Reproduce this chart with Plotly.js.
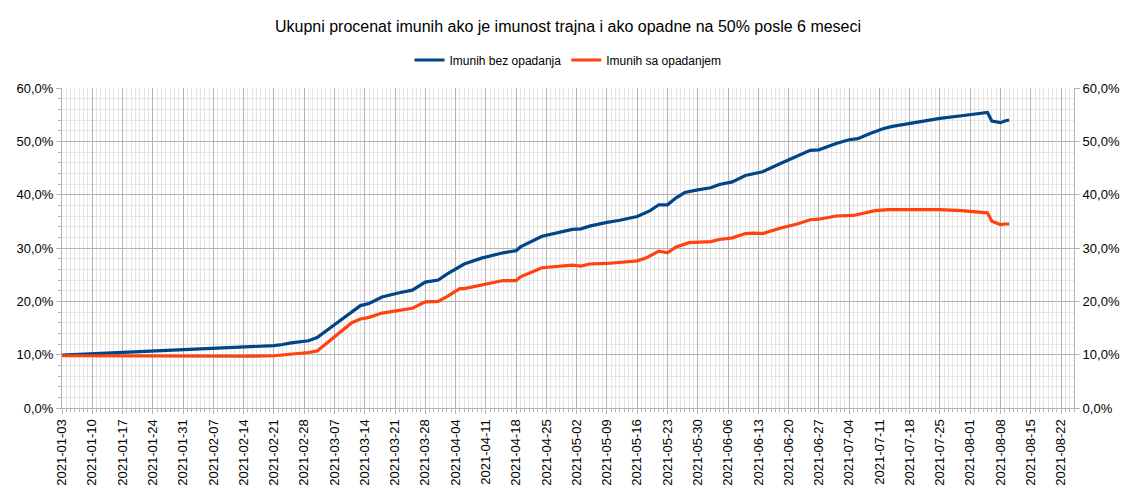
<!DOCTYPE html>
<html>
<head>
<meta charset="utf-8">
<script src="https://cdn.plot.ly/plotly-3.0.1.min.js"></script>
<style>html,body{margin:0;padding:0;background:#fff;}#chart{width:1136px;height:489px;}</style>
</head>
<body>
<div id="chart"></div>
<script>
const chartTitle = "Ukupni procenat imunih ako je imunost trajna i ako opadne na 50% posle 6 meseci";
const seriesNames = ["Imunih bez opadanja", "Imunih sa opadanjem"];

const datesBez = ["2021-01-03","2021-01-17","2021-01-31","2021-02-14","2021-02-21","2021-02-23","2021-02-25","2021-03-01","2021-03-02","2021-03-03","2021-03-07","2021-03-11","2021-03-13","2021-03-15","2021-03-18","2021-03-22","2021-03-25","2021-03-28","2021-03-31","2021-04-02","2021-04-05","2021-04-06","2021-04-10","2021-04-12","2021-04-15","2021-04-18","2021-04-19","2021-04-24","2021-04-27","2021-05-01","2021-05-03","2021-05-05","2021-05-09","2021-05-12","2021-05-16","2021-05-19","2021-05-21","2021-05-23","2021-05-25","2021-05-27","2021-05-30","2021-06-02","2021-06-04","2021-06-07","2021-06-10","2021-06-12","2021-06-14","2021-06-18","2021-06-22","2021-06-25","2021-06-27","2021-07-01","2021-07-04","2021-07-06","2021-07-09","2021-07-12","2021-07-14","2021-07-19","2021-07-25","2021-07-30","2021-08-04","2021-08-05","2021-08-06","2021-08-08","2021-08-09","2021-08-10"];
const valuesBez = [9.9,10.4,11.0,11.4,11.7,11.9,12.2,12.6,12.9,13.2,15.6,18.1,19.2,19.6,20.8,21.6,22.1,23.6,24.0,25.1,26.6,27.0,28.1,28.5,29.1,29.5,30.2,32.2,32.7,33.5,33.6,34.1,34.8,35.2,35.9,37.0,38.1,38.1,39.4,40.4,40.9,41.3,41.9,42.4,43.6,44.0,44.3,45.8,47.2,48.3,48.4,49.6,50.3,50.5,51.5,52.4,52.8,53.5,54.3,54.8,55.2,55.4,53.8,53.5,53.8,54.0];

const datesSa = ["2021-01-03","2021-01-31","2021-02-14","2021-02-21","2021-02-24","2021-02-25","2021-03-01","2021-03-03","2021-03-07","2021-03-11","2021-03-13","2021-03-15","2021-03-18","2021-03-21","2021-03-25","2021-03-28","2021-03-31","2021-04-02","2021-04-05","2021-04-06","2021-04-09","2021-04-12","2021-04-15","2021-04-18","2021-04-19","2021-04-24","2021-04-27","2021-05-01","2021-05-03","2021-05-05","2021-05-09","2021-05-12","2021-05-16","2021-05-18","2021-05-21","2021-05-23","2021-05-25","2021-05-28","2021-06-02","2021-06-04","2021-06-07","2021-06-10","2021-06-12","2021-06-14","2021-06-18","2021-06-22","2021-06-25","2021-06-27","2021-07-01","2021-07-05","2021-07-07","2021-07-10","2021-07-13","2021-07-25","2021-07-30","2021-08-05","2021-08-06","2021-08-08","2021-08-09","2021-08-10"];
const valuesSa = [9.8,9.7,9.7,9.8,10.0,10.2,10.4,10.7,13.4,16.0,16.7,17.0,17.8,18.2,18.7,19.9,20.0,20.9,22.4,22.4,22.9,23.3,23.9,23.9,24.6,26.3,26.5,26.8,26.6,27.0,27.1,27.3,27.6,28.1,29.4,29.1,30.2,31.0,31.2,31.6,31.9,32.7,32.8,32.7,33.7,34.5,35.3,35.4,36.0,36.1,36.5,37.0,37.2,37.2,37.0,36.6,35.0,34.4,34.5,34.5];

const seriesColors = ["#004586", "#ff420e"];

const font = "Liberation Sans, Arial, sans-serif";
const traces = [
  {x: datesBez, y: valuesBez, name: seriesNames[0], type: "scatter", mode: "lines",
   line: {color: seriesColors[0], width: 3.2}},
  {x: datesSa, y: valuesSa, name: seriesNames[1], type: "scatter", mode: "lines",
   line: {color: seriesColors[1], width: 3.2}},
  // invisible copy so the secondary (right) axis is drawn
  {x: datesBez, y: valuesBez, yaxis: "y2", type: "scatter", mode: "lines",
   line: {color: "rgba(0,0,0,0)", width: 0}, showlegend: false, hoverinfo: "skip"}
];

const axisFont = {family: font, size: 13, color: "#000"};
const layout = {
  width: 1136, height: 489,
  margin: {l: 62, r: 62, t: 88, b: 81},
  paper_bgcolor: "#fff", plot_bgcolor: "#fff",
  separators: ", ",
  font: {family: font, color: "#000", size: 13},
  title: {text: chartTitle, font: {family: font, size: 16, color: "#000"},
          x: 0.5, xanchor: "center", y: 1 - 26/489, yanchor: "middle", yref: "container"},
  showlegend: true,
  legend: {orientation: "h", x: 0.5, xanchor: "center", y: 1.0875, yanchor: "middle",
           font: {family: font, size: 12, color: "#000"}, itemwidth: 30, tracegroupgap: 0},
  xaxis: {
    type: "date", range: ["2021-01-03", "2021-08-25"],
    tick0: "2021-01-03", dtick: 7*86400000, tickformat: "%Y-%m-%d", tickangle: -90,
    showgrid: true, gridcolor: "#b3b3b3", gridwidth: 1,
    ticks: "outside", ticklen: 5, tickcolor: "#b3b3b3",
    showline: true, linecolor: "#b3b3b3", zeroline: false,
    tickfont: axisFont,
    minor: {dtick: 86400000, showgrid: true, gridcolor: "#e6e6e6", ticks: "outside", ticklen: 3, tickcolor: "#b3b3b3"}
  },
  yaxis: {
    range: [0, 60], dtick: 10, tickformat: ".1f", ticksuffix: "%",
    showgrid: true, gridcolor: "#b3b3b3", gridwidth: 1,
    ticks: "outside", ticklen: 5, tickcolor: "#b3b3b3",
    showline: true, linecolor: "#b3b3b3", zeroline: false,
    tickfont: axisFont,
    minor: {dtick: 2, showgrid: true, gridcolor: "#e6e6e6", ticks: "outside", ticklen: 3, tickcolor: "#b3b3b3"}
  },
  yaxis2: {
    overlaying: "y", side: "right", range: [0, 60], dtick: 10, tickformat: ".1f", ticksuffix: "%",
    showgrid: false, ticks: "outside", ticklen: 5, tickcolor: "#b3b3b3",
    showline: true, linecolor: "#b3b3b3", zeroline: false,
    tickfont: axisFont
  }
};

Plotly.newPlot("chart", traces, layout, {displayModeBar: false, staticPlot: true});
</script>
</body>
</html>
